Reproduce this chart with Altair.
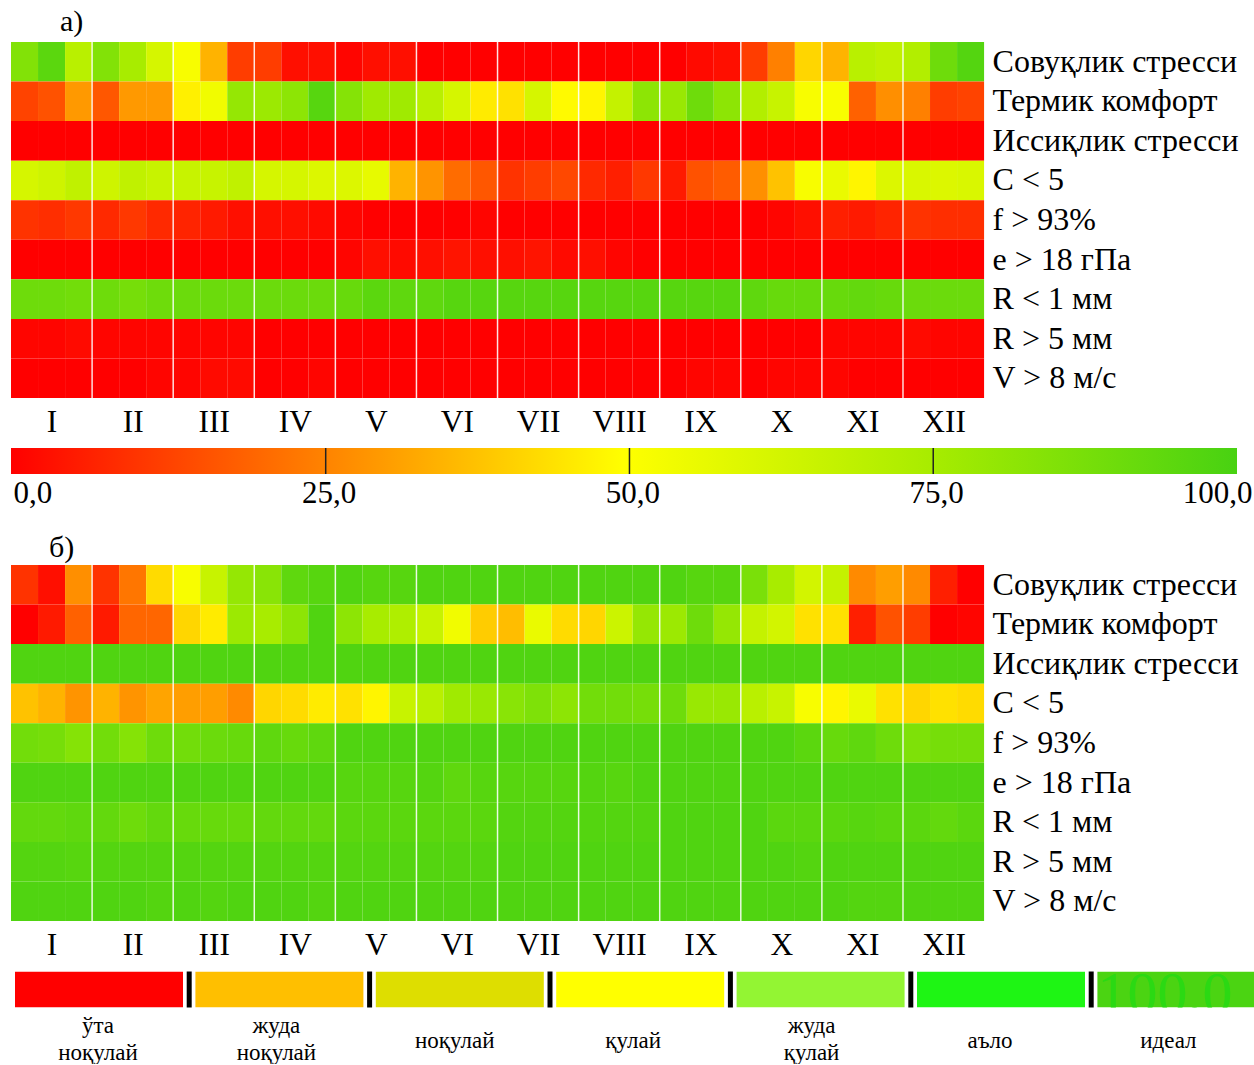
import json
import altair as alt
import pandas as pd

# ---- labels -------------------------------------------------------------
elements = ["Совуқлик стресси", "Термик комфорт", "Иссиқлик стресси", "C < 5",
            "f > 93%", "e > 18 гПа", "R < 1 мм", "R > 5 мм", "V > 8 м/с"]
months = ["I", "II", "III", "IV", "V", "VI", "VII", "VIII", "IX", "X", "XI", "XII"]
decades_per_month = 3

# ---- frequencies (%) by decade, panel а) ---------------------------------
a_cold = [85, 95, 70, 85, 75, 62, 52, 35, 12, 12, 3, 3, 1, 3, 3, 0, 0, 0,
          0, 0, 0, 0, 0, 0, 0, 2, 3, 12, 25, 42, 35, 70, 68, 72, 90, 97]
a_comfort = [13, 16, 30, 17, 30, 30, 47, 54, 80, 78, 82, 96, 84, 77, 77, 70, 62, 46,
             44, 62, 49, 48, 67, 82, 79, 90, 82, 72, 66, 52, 52, 19, 28, 25, 12, 13]
a_heat = [0, 0, 0, 0, 0, 0, 0, 0, 0, 0, 0, 0, 0, 0, 0, 0, 0, 0,
          0, 0, 0, 0, 0, 0, 0, 0, 0, 0, 0, 0, 0, 0, 0, 0, 0, 0]
a_c5 = [62, 64, 68, 64, 68, 66, 66, 66, 68, 62, 62, 60, 60, 57, 35, 29, 21, 17,
        10, 12, 14, 8, 6, 11, 5, 16, 18, 28, 38, 52, 56, 48, 60, 61, 60, 61]
a_f93 = [10, 9, 11, 8, 11, 8, 7, 5, 3, 3, 3, 2, 1, 0, 0, 0, 0, 1,
         0, 0, 0, 0, 0, 0, 0, 0, 0, 0, 1, 3, 6, 5, 7, 10, 9, 9]
a_e18 = [0, 0, 0, 0, 0, 0, 0, 0, 0, 0, 0, 0, 1, 3, 2, 3, 4, 3,
         3, 4, 2, 3, 1, 0, 0, 0, 0, 0, 0, 0, 0, 0, 0, 0, 0, 0]
a_r1 = [90, 90, 89, 90, 88, 90, 91, 91, 91, 91, 91, 91, 92, 95, 94, 94, 96, 96,
        96, 96, 96, 96, 96, 96, 96, 96, 96, 94, 92, 92, 92, 93, 92, 91, 91, 91]
a_r5 = [1, 1, 2, 1, 1, 1, 1, 1, 1, 0, 0, 0, 0, 0, 0, 0, 0, 0,
        0, 0, 0, 0, 0, 0, 0, 0, 0, 0, 0, 0, 1, 1, 1, 2, 1, 1]
a_v8 = [0, 0, 0, 0, 0, 1, 1, 2, 2, 0, 0, 1, 0, 0, 0, 0, 0, 0,
        0, 0, 0, 0, 0, 0, 0, 1, 1, 0, 1, 1, 1, 0, 0, 0, 0, 0]

# ---- frequencies (%) by decade, panel б) ---------------------------------
b_cold = [10, 3, 28, 10, 23, 43, 52, 66, 80, 83, 94, 96, 98, 96, 96, 98, 98, 98,
          98, 98, 98, 98, 98, 98, 98, 96, 96, 87, 75, 63, 67, 27, 31, 27, 6, 0]
b_comfort = [0, 5, 19, 5, 20, 20, 42, 46, 78, 75, 82, 98, 82, 75, 73, 66, 54, 40,
             37, 56, 43, 42, 65, 80, 78, 90, 80, 67, 63, 44, 44, 6, 16, 12, 0, 1]
b_heat = [98, 98, 98, 98, 98, 98, 98, 98, 98, 98, 98, 98, 98, 98, 98, 98, 98, 98,
          98, 98, 98, 98, 98, 98, 98, 98, 98, 98, 98, 98, 98, 98, 98, 98, 98, 98]
b_c5 = [38, 35, 29, 35, 29, 32, 31, 31, 27, 42, 43, 46, 44, 48, 66, 70, 77, 79,
        83, 86, 82, 89, 89, 88, 90, 79, 79, 70, 66, 52, 48, 56, 44, 42, 44, 43]
b_f93 = [89, 88, 84, 89, 84, 90, 89, 91, 92, 94, 92, 94, 98, 98, 98, 98, 98, 98,
         98, 98, 98, 98, 98, 98, 98, 98, 98, 98, 98, 95, 92, 94, 90, 86, 88, 88]
b_e18 = [98, 98, 98, 98, 98, 98, 98, 98, 98, 98, 98, 98, 96, 96, 96, 97, 94, 96,
         96, 96, 96, 97, 96, 98, 98, 98, 98, 98, 98, 98, 98, 98, 98, 98, 98, 98]
b_r1 = [93, 93, 94, 93, 90, 93, 92, 92, 92, 93, 93, 93, 95, 95, 95, 95, 95, 95,
        97, 97, 97, 97, 97, 97, 98, 98, 98, 98, 95, 95, 95, 96, 95, 95, 93, 95]
b_r5 = [97, 97, 96, 97, 97, 97, 97, 97, 97, 97, 97, 97, 97, 97, 97, 97, 97, 97,
        98, 98, 98, 98, 98, 98, 98, 98, 98, 98, 98, 97, 98, 98, 98, 98, 98, 98]
b_v8 = [98, 98, 98, 98, 98, 97, 98, 97, 98, 98, 98, 97, 98, 98, 98, 98, 98, 98,
        98, 98, 98, 98, 98, 98, 98, 98, 98, 98, 98, 98, 98, 97, 97, 98, 98, 98]

# ---- continuous colour scale ---------------------------------------------
scale_values = [0, 25, 50, 75, 100]
scale_colors = ["#ff0000", "#ff8000", "#ffff00", "#a8ec00", "#48d212"]
bar_ticks = [0, 25, 50, 75, 100]
bar_lo = -0.9          # the bar starts a little before the zero mark

# ---- category legend -----------------------------------------------------
categories = ["ўта\nноқулай", "жуда\nноқулай", "ноқулай", "қулай",
              "жуда\nқулай", "аъло", "идеал"]
category_colors = ["#ff0000", "#ffbf00", "#dede00", "#ffff00",
                   "#93f533", "#1ef514", "#4bd412"]

FONT = "Liberation Serif"
CELL_W = 27.03
PLOT_W = 36 * CELL_W
PLOT_H = 356


def panel_frame(series):
    recs = []
    for name, vals in zip(elements, series):
        for i, v in enumerate(vals):
            recs.append({"element": name, "pos": i, "pos_end": i + 1, "value": v})
    return pd.DataFrame(recs)


color_scale = alt.Scale(domain=scale_values, range=scale_colors,
                        interpolate="rgb", type="linear")
n_cols = len(months) * decades_per_month
month_label_expr = json.dumps(months) + "[floor(datum.value / %d)]" % decades_per_month


def heatmap(series, title, title_dx, title_offset):
    df = panel_frame(series)
    cells = alt.Chart(df).mark_rect().encode(
        x=alt.X("pos:Q",
                scale=alt.Scale(domain=[0, n_cols], nice=False, zero=False),
                axis=alt.Axis(values=[decades_per_month * k + decades_per_month / 2
                                      for k in range(len(months))],
                              labelExpr=month_label_expr, title=None,
                              ticks=False, domain=False, grid=False,
                              labelFontSize=31.5, labelPadding=8.5,
                              labelFont=FONT, labelColor="black")),
        x2="pos_end:Q",
        y=alt.Y("element:N", sort=elements,
                axis=alt.Axis(orient="right", title=None, ticks=False,
                              domain=False, grid=False, labelFontSize=32,
                              labelPadding=8, labelLimit=400, labelFont=FONT,
                              labelColor="black")),
        color=alt.Color("value:Q", scale=color_scale, legend=None),
    )
    bounds = pd.DataFrame({"b": [decades_per_month * k for k in range(1, len(months))]})
    seps = alt.Chart(bounds).mark_rule(color="white", strokeWidth=1.5,
                                      opacity=0.85).encode(x="b:Q")
    return alt.layer(cells, seps).properties(
        width=PLOT_W, height=PLOT_H,
        title=alt.TitleParams(title, anchor="start", dx=title_dx, offset=title_offset,
                              font=FONT, fontSize=30, fontWeight="normal",
                              color="black"),
    )


chart_a = heatmap([a_cold, a_comfort, a_heat, a_c5, a_f93, a_e18, a_r1, a_r5, a_v8],
                  "а)", 49, 4)
chart_b = heatmap([b_cold, b_comfort, b_heat, b_c5, b_f93, b_e18, b_r1, b_r5, b_v8],
                  "б)", 38, 1.5)

# ---- colour bar ---------------------------------------------------------
gradient = alt.LinearGradient(
    gradient="linear",
    stops=[alt.GradientStop(color=c, offset=v / 100)
           for v, c in zip(scale_values, scale_colors)],
    x1=0, x2=1, y1=0, y2=0,
)
bar_df = pd.DataFrame({"lo": [bar_lo], "hi": [scale_values[-1]]})
bar = alt.Chart(bar_df).mark_rect(color=gradient).encode(
    x=alt.X("lo:Q", scale=alt.Scale(domain=[bar_lo, 100], nice=False, zero=False),
            axis=alt.Axis(values=bar_ticks, title=None, ticks=False, domain=False,
                          grid=False, labelFlush=12, labelFlushOffset=12,
                          labelOffset=3, labelFontSize=31,
                          labelPadding=4.8, labelFont=FONT, labelColor="black",
                          labelExpr="replace(format(datum.value, '.1f'), '.', ',')")),
    x2="hi:Q",
)
bar_marks = alt.Chart(pd.DataFrame({"t": bar_ticks[1:-1]})).mark_rule(
    color="#222222", strokeWidth=1.5).encode(x="t:Q")
colorbar = alt.layer(bar, bar_marks).properties(width=1226, height=26)

# ---- category legend ------------------------------------------------------
UNIT = 180.4                 # box pitch, px
BOX = 168 / UNIT             # box width, in pitches
TEXT_PITCH = 178.4 / UNIT    # caption row runs on a slightly tighter pitch
TEXT_START = 83 / UNIT
LEG_W = 1243
leg_start = -4 / UNIT
leg_scale = alt.Scale(domain=[leg_start, leg_start + LEG_W / UNIT], nice=False, zero=False)
leg_df = pd.DataFrame({
    "label": categories,
    "color": category_colors,
    "lo": [i for i in range(len(categories))],
    "hi": [i + BOX for i in range(len(categories))],
    "mid": [TEXT_START + i * TEXT_PITCH for i in range(len(categories))],
})
sep_df = pd.DataFrame({"s": [i + (1 + BOX) / 2 for i in range(len(categories) - 1)]})

# the last box runs off the right edge, so clip it to the legend strip
boxes = alt.Chart(leg_df).mark_rect(clip=True).encode(
    x=alt.X("lo:Q", scale=leg_scale, axis=None), x2="hi:Q",
    color=alt.Color("color:N", scale=None),
)
ghost = alt.Chart(leg_df.tail(1)).mark_text(
    text="100,0", align="left", baseline="alphabetic", font=FONT, fontSize=60,
    color="#2bd913", clip=True, dx=0,
).encode(x=alt.X("lo:Q", scale=leg_scale), y=alt.value(41))
leg_seps = alt.Chart(sep_df).mark_rule(color="black", strokeWidth=5).encode(
    x=alt.X("s:Q", scale=leg_scale))
text_style = dict(lineBreak="\n", font=FONT, fontSize=23, baseline="middle",
                  color="black", lineHeight=27)
leg_text_one = alt.Chart(leg_df).transform_filter(
    "indexof(datum.label, '\\n') < 0"
).mark_text(**text_style).encode(
    x=alt.X("mid:Q", scale=leg_scale), y=alt.value(36 + 33), text="label:N")
leg_text_two = alt.Chart(leg_df).transform_filter(
    "indexof(datum.label, '\\n') >= 0"
).mark_text(**text_style).encode(
    x=alt.X("mid:Q", scale=leg_scale), y=alt.value(36 + 18), text="label:N")
legend = alt.layer(boxes, ghost, leg_seps, leg_text_one, leg_text_two).properties(
    width=LEG_W, height=36)

top = alt.vconcat(chart_a, colorbar, spacing=9)
bottom = alt.vconcat(chart_b, legend, spacing=7.5)
chart = alt.vconcat(top, bottom, spacing=23).properties(
    padding={"left": 11, "top": 7, "right": 0, "bottom": -1},
    background="white",
).configure_view(stroke=None)

chart.save("out.html", embed_options={"renderer": "svg", "actions": False})
